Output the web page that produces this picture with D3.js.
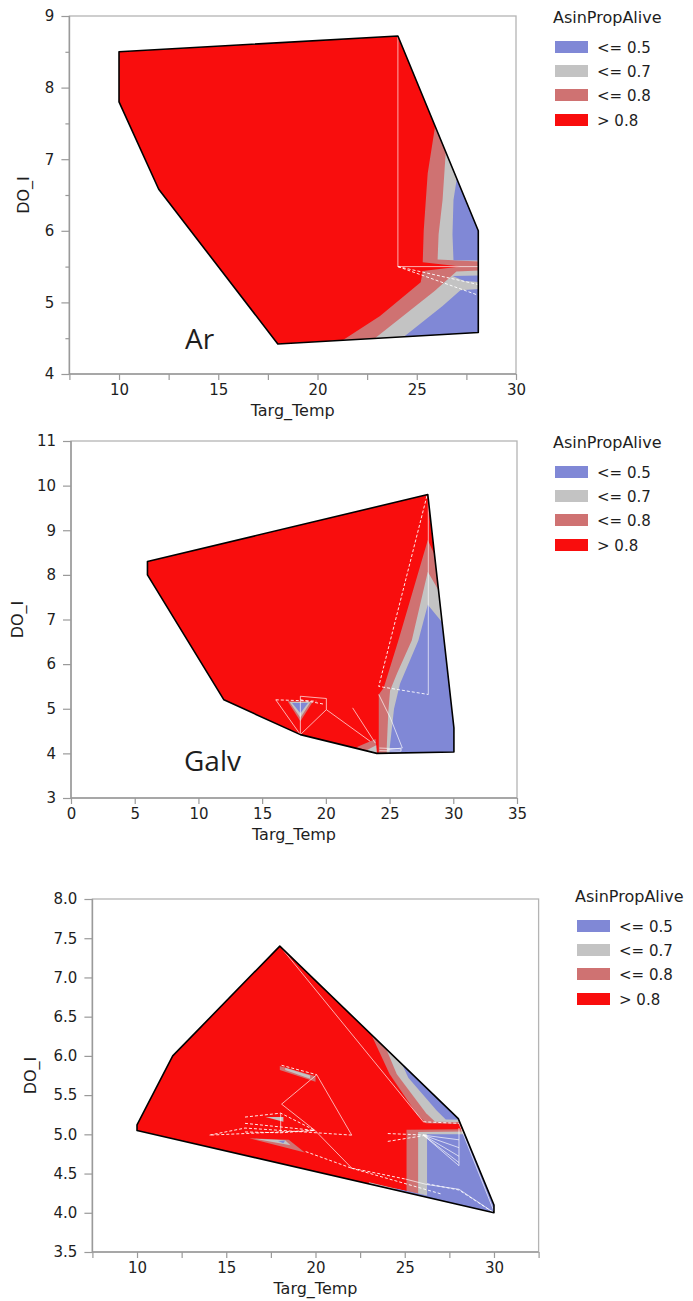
<!DOCTYPE html>
<html><head><meta charset="utf-8">
<script src="https://cdn.jsdelivr.net/npm/d3@7"></script>
<style>
body{margin:0;background:#fff;}
svg{display:block;}
text{font-family:"DejaVu Sans",sans-serif;fill:#1e1e1e;}
</style>
</head><body>
<svg id="c" width="693" height="1301"></svg>
<script>
// ---------------- DATA ----------------
const legendTitle = "AsinPropAlive";
const legendLabels = ["<= 0.5", "<= 0.7", "<= 0.8", "> 0.8"];
const legendColors = ["#8088d6", "#c3c3c3", "#cf7272", "#f90d0d"];
const xTitle = "Targ_Temp";
const yTitle = "DO_I";

// Panel 1 (Ar)
const p1Name = "Ar";
const p1XTicks = [10, 15, 20, 25, 30];
const p1XMinor = [7.5, 12.5, 17.5, 22.5, 27.5];
const p1YTicks = [4, 5, 6, 7, 8, 9];
const p1YMinor = [4.5, 5.5, 6.5, 7.5, 8.5];
const p1Hull = [[10,8.5],[24.05,8.72],[28.1,6.0],[28.1,4.58],[18,4.42],[12,6.58],[10,7.8]];
const p1Salmon = [[26.05,7.9],[25.9,7.42],[25.55,6.8],[25.35,6.0],[25.3,5.56],[27.2,5.5],[25.3,5.44],[25.2,5.28],[23.15,4.81],[21.15,4.45],[21.0,4.0],[31,4.0],[31,7.9]];
const p1Gray = [[26.6,7.9],[26.45,7.06],[26.3,6.43],[26.1,5.95],[26.05,5.6],[29,5.56],[29,5.46],[27.0,5.43],[25.9,5.16],[22.8,4.48],[22.7,4.0],[31,4.0],[31,7.9]];
const p1Blue = [[27.15,7.9],[27.0,6.7],[26.85,6.43],[26.8,5.95],[26.85,5.59],[29,5.58],[29,5.2],[27.2,5.17],[26.3,4.95],[24.13,4.47],[24.0,4.0],[31,4.0],[31,7.9]];
const p1BluePatch = [[26.8,5.37],[29,5.38],[29,5.27],[27.4,5.3]];
const p1LinesSolid = [
  [[24.05,8.72],[24.05,5.5]],
  [[24.05,5.5],[28.1,5.5]]
];
const p1LinesDashed = [
  [[24.05,5.5],[28.1,5.25]],
  [[24.05,5.5],[28.1,5.1]]
];

// Panel 2 (Galv)
const p2Name = "Galv";
const p2XTicks = [0, 5, 10, 15, 20, 25, 30, 35];
const p2YTicks = [3, 4, 5, 6, 7, 8, 9, 10, 11];
const p2Hull = [[6,8.3],[28,9.8],[30.05,4.57],[30.05,4.03],[24,4.0],[18,4.42],[12,5.2],[6,8.0]];
const p2Salmon = [[24.15,3.5],[24.15,5.32],[24.54,5.47],[25.69,6.53],[28,8.78],[28.53,8.45],[29.6,7.78],[31,3.5]];
const p2Gray = [[24.78,3.5],[24.78,4.15],[24.9,4.93],[25.04,5.41],[25.6,5.8],[26.74,6.53],[28,8.07],[28.85,7.65],[30.5,6.8],[31,3.5]];
const p2Blue = [[25.0,3.5],[25.0,4.1],[25.35,5.0],[25.82,5.56],[27.26,6.53],[28,7.33],[29.12,6.94],[31,6.3],[31,3.5]];
const p2SmallSalmon = [[[17.0,5.17],[19.0,5.17],[18.0,4.72]], [[22.4,4.14],[24.0,4.0],[23.9,4.32]]];
const p2SmallGray = [[[17.15,5.15],[18.8,5.15],[18.0,4.8]], [[23.2,4.07],[24.0,4.0],[23.95,4.18]]];
const p2SmallBlue = [[[17.35,5.13],[18.6,5.13],[18.0,4.9]]];
const p2LinesSolid = [
  [[28.04,9.77],[28.04,5.32]],
  [[24.15,5.32],[25.07,4.79],[26.0,4.12],[24.8,4.08]],
  [[22.1,5.02],[23.88,4.23]],
  [[16.07,5.2],[18.0,4.42],[20.04,4.98],[23.48,4.27]],
  [[18.0,4.42],[18.0,5.28],[20.04,5.23],[20.04,4.98]],
  [[24.2,4.12],[25.9,4.1],[25.9,4.05],[24.2,4.06]]
];
const p2LinesDashed = [
  [[27.93,9.77],[24.15,5.5],[28.04,5.32]],
  [[16.07,5.2],[19.25,5.17]],
  [[18.0,5.2],[19.9,5.1]]
];

// Panel 3 (unlabelled)
const p3XTicks = [10, 15, 20, 25, 30];
const p3XMinor = [7.5, 12.5, 17.5, 22.5, 27.5, 32.5];
const p3YTicks = [3.5, 4.0, 4.5, 5.0, 5.5, 6.0, 6.5, 7.0, 7.5, 8.0];
const p3Hull = [[10,5.05],[10,5.12],[12,6.0],[18,7.4],[28,5.2],[30,4.1],[30,4.0]];
const p3SalmonU = [[22.9,6.6],[23.15,6.26],[24.15,5.77],[25.7,5.25],[26.2,5.14],[31,5.12],[31,6.6]];
const p3GrayU = [[23.8,6.5],[24.0,6.07],[24.55,5.77],[26.2,5.27],[26.7,5.16],[31,5.15],[31,6.5]];
const p3BlueU = [[24.7,6.3],[24.9,5.87],[25.2,5.72],[26.8,5.3],[27.3,5.19],[31,5.18],[31,6.3]];
const p3SalmonL = [[25.1,5.06],[31,5.07],[31,3.5],[20,3.5],[20.5,4.5],[25.1,4.25]];
const p3GrayL = [[25.75,5.03],[31,5.04],[31,3.5],[22,3.5],[23,4.39],[25.75,4.24]];
const p3BlueL = [[26.25,5.0],[31,5.0],[31,3.5],[24,3.5],[24.5,4.31],[26.25,4.22]];
const p3SmallSalmon = [[[18,5.87],[20,5.74],[20,5.67],[18,5.82]], [[16.3,4.95],[18.5,4.93],[19.4,4.77]]];
const p3SmallGray = [[[18.3,5.85],[19.7,5.75],[19.7,5.71],[18.3,5.82]], [[16.6,4.945],[18.3,4.925],[18.6,4.86]], [[17.2,5.22],[18.2,5.22],[18.2,5.16]]];
const p3SmallBlue = [[[17.9,4.915],[18.3,4.92],[18.2,4.885]]];
const p3LinesSolid = [
  [[18.15,7.36],[26.04,5.16]],
  [[20.07,5.76],[18.1,5.385],[19.97,5.05]],
  [[20.07,5.76],[22.03,4.99]],
  [[19.97,5.05],[22.03,4.57]],
  [[25.04,4.43],[26.24,4.36],[28.04,4.30],[30.0,4.0]],
  [[28.04,5.14],[30.0,4.02]],
  [[18.05,5.27],[18.05,5.02]],
  [[26.04,4.99],[28.04,4.93]], [[26.04,4.99],[28.04,4.83]], [[26.04,4.99],[28.04,4.72]],
  [[26.04,4.99],[28.04,4.64]], [[26.04,4.99],[28.04,4.6]], [[28.04,5.08],[28.04,4.6]]
];
const p3LinesDashed = [
  [[18.1,5.88],[20.07,5.76]],
  [[22.03,4.99],[16.05,5.08],[14.06,4.99],[19.97,5.05]],
  [[16.05,5.22],[18.05,5.27],[19.97,5.05]],
  [[16.05,5.14],[19.97,5.05]],
  [[16.05,5.03],[18.05,5.02],[19.97,5.05]],
  [[19.45,4.78],[22.0,4.57],[25.04,4.43]],
  [[22.0,4.57],[27.04,4.24]],
  [[26.04,5.16],[28.04,5.14]],
  [[24.05,5.01],[26.24,4.99]], [[24.05,4.91],[26.24,4.99]],
  [[26.24,4.37],[28.04,4.29],[30.0,4.0]]
];

// ---------------- DRAWING ----------------
const svg = d3.select("#c");
const COL = {blue: legendColors[0], gray: legendColors[1], salmon: legendColors[2], red: legendColors[3]};
const FONT = '"DejaVu Sans",sans-serif';

const panels = [
  {id:"p1", name:p1Name, xDomain:[7.5,30], yDomain:[4,9], xRange:[69.4,516], yRange:[374,16],
   xTicks:p1XTicks, xMinor:p1XMinor, yTicks:p1YTicks, yMinor:p1YMinor, yFmt:d3.format("d"),
   hull:p1Hull, bands:[["salmon",[p1Salmon]],["gray",[p1Gray]],["blue",[p1Blue,p1BluePatch]]],
   solid:p1LinesSolid, dashed:p1LinesDashed,
   nameX:185, nameY:349, xTitleY:411, yTitleX:24, legDX:0, legDY:0},
  {id:"p2", name:p2Name, xDomain:[0,35], yDomain:[3,11], xRange:[71,517], yRange:[798,441],
   xTicks:p2XTicks, xMinor:[], yTicks:p2YTicks, yMinor:[], yFmt:d3.format("d"),
   hull:p2Hull, bands:[["salmon",[p2Salmon]],["gray",[p2Gray]],["blue",[p2Blue]],
     ["salmon",p2SmallSalmon],["gray",p2SmallGray],["blue",p2SmallBlue]],
   solid:p2LinesSolid, dashed:p2LinesDashed,
   nameX:184, nameY:771, xTitleY:835, yTitleX:18, legDX:0, legDY:425},
  {id:"p3", name:"", xDomain:[7.5,32.5], yDomain:[3.5,8], xRange:[92.4,538.6], yRange:[1252,899],
   xTicks:p3XTicks, xMinor:p3XMinor, yTicks:p3YTicks, yMinor:[], yFmt:d3.format(".1f"),
   hull:p3Hull, bands:[["salmon",[p3SalmonU,p3SalmonL]],["gray",[p3GrayU,p3GrayL]],["blue",[p3BlueU,p3BlueL]],
     ["salmon",p3SmallSalmon],["gray",p3SmallGray],["blue",p3SmallBlue]],
   solid:p3LinesSolid, dashed:p3LinesDashed,
   nameX:0, nameY:0, xTitleY:1289, yTitleX:31, legDX:22, legDY:879}
];

panels.forEach(p => {
  const x = d3.scaleLinear().domain(p.xDomain).range(p.xRange);
  const y = d3.scaleLinear().domain(p.yDomain).range(p.yRange);
  const line = d3.line().x(d => x(d[0])).y(d => y(d[1]));
  const g = svg.append("g");
  const [x0, x1] = p.xRange, [y0, y1] = p.yRange;

  // frame
  g.append("rect").attr("x", x0).attr("y", y1).attr("width", x1 - x0).attr("height", y0 - y1)
    .attr("fill", "none").attr("stroke", "#b4b4b4").attr("stroke-width", 1.3);

  // clip
  svg.append("clipPath").attr("id", "clip-" + p.id)
    .append("path").attr("d", line(p.hull) + "Z");

  const cg = g.append("g").attr("clip-path", "url(#clip-" + p.id + ")");
  cg.append("path").attr("d", line(p.hull) + "Z").attr("fill", COL.red);
  p.bands.forEach(([c, polys]) => {
    polys.forEach(poly => cg.append("path").attr("d", line(poly) + "Z").attr("fill", COL[c]));
  });
  p.solid.forEach(l => cg.append("path").attr("d", line(l)).attr("fill", "none")
    .attr("stroke", "#fff").attr("stroke-width", 0.8).attr("stroke-opacity", 0.85));
  p.dashed.forEach(l => cg.append("path").attr("d", line(l)).attr("fill", "none")
    .attr("stroke", "#fff").attr("stroke-width", 0.9).attr("stroke-dasharray", "3,2"));

  g.append("path").attr("d", line(p.hull) + "Z").attr("fill", "none")
    .attr("stroke", "#000").attr("stroke-width", 1.6).attr("stroke-linejoin", "round");

  // axes
  const styleAxis = sel => {
    sel.select(".domain").remove();
    sel.selectAll("line").attr("stroke", "#9a9a9a").attr("stroke-width", 1.2);
    sel.selectAll("text").style("font-family", FONT).style("font-size", "15px").attr("fill", "#1e1e1e");
  };
  g.append("g").attr("transform", `translate(${x0},0)`)
    .call(d3.axisLeft(y).tickValues(p.yTicks).tickFormat(p.yFmt).tickSize(8).tickPadding(7)).call(styleAxis);
  if (p.yMinor.length) g.append("g").attr("transform", `translate(${x0},0)`)
    .call(d3.axisLeft(y).tickValues(p.yMinor).tickFormat("").tickSize(4)).call(styleAxis);
  g.append("g").attr("transform", `translate(0,${y0})`)
    .call(d3.axisBottom(x).tickValues(p.xTicks).tickFormat(d3.format("d")).tickSize(6).tickPadding(4)).call(styleAxis);
  if (p.xMinor.length) g.append("g").attr("transform", `translate(0,${y0})`)
    .call(d3.axisBottom(x).tickValues(p.xMinor).tickFormat("").tickSize(6)).call(styleAxis);
  // axis lines
  g.append("line").attr("x1", x0).attr("x2", x0).attr("y1", y1).attr("y2", y0).attr("stroke", "#9a9a9a").attr("stroke-width", 1.5);
  g.append("line").attr("x1", x0).attr("x2", x1).attr("y1", y0).attr("y2", y0).attr("stroke", "#9a9a9a").attr("stroke-width", 1.5);

  // titles
  g.append("text").attr("x", (x0 + x1) / 2).attr("y", p.xTitleY).attr("text-anchor", "middle")
    .attr("dominant-baseline", "middle").style("font-size", "16px").text(xTitle);
  g.append("text").attr("transform", `translate(${p.yTitleX},${(y0 + y1) / 2}) rotate(-90)`)
    .attr("text-anchor", "middle").attr("dominant-baseline", "middle").style("font-size", "16px").text(yTitle);
  if (p.name) g.append("text").attr("x", p.nameX).attr("y", p.nameY)
    .style("font-family", '"Open Sans",sans-serif').style("font-size", "28px").text(p.name);

  // legend
  const lg = g.append("g").attr("transform", `translate(${p.legDX},${p.legDY})`);
  lg.append("text").attr("x", 553).attr("y", 23).style("font-size", "16px").text(legendTitle);
  legendLabels.forEach((lab, i) => {
    const yy = [41, 65, 89, 114][i];
    lg.append("rect").attr("x", 555).attr("y", yy).attr("width", 33).attr("height", 12).attr("fill", legendColors[i]);
    lg.append("text").attr("x", 597).attr("y", yy + 7).attr("dominant-baseline", "middle")
      .style("font-size", "15px").text(lab);
  });
});
</script>
</body></html>
